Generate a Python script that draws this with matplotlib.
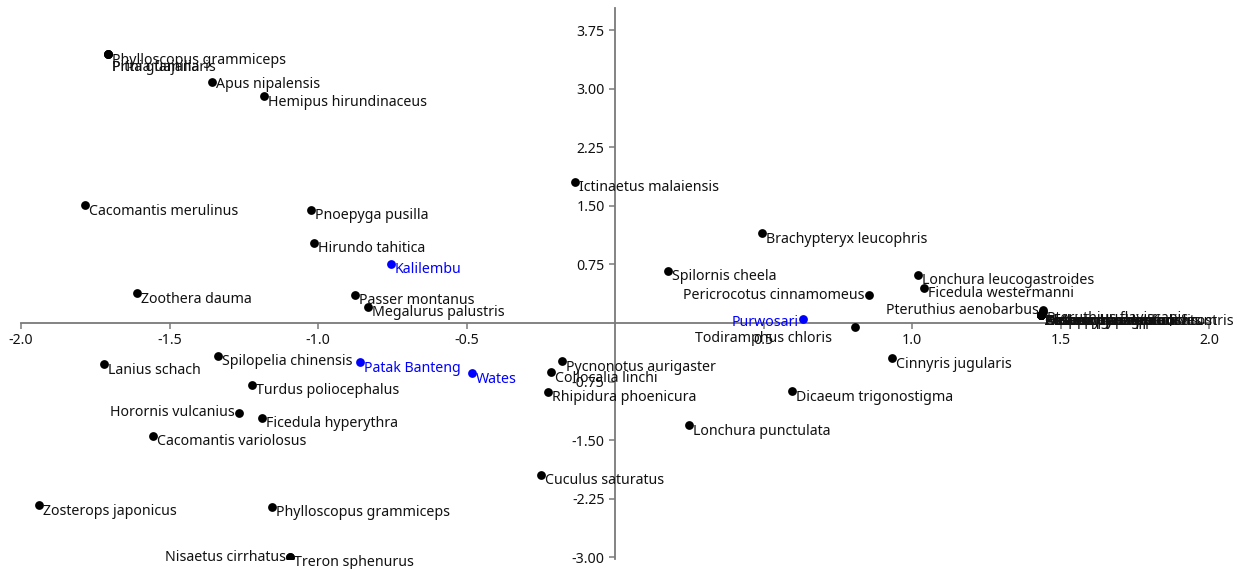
import matplotlib
matplotlib.use("Agg")
import matplotlib.pyplot as plt
from matplotlib.ticker import FixedLocator, FixedFormatter

plt.rcParams["font.family"] = ["Noto Sans", "DejaVu Sans"]
plt.rcParams["axes.unicode_minus"] = False

# Species / site names and their coordinates
names = [
    "Phylloscopus grammiceps", "Pitta guajana", "Prinia familiaris",
    "Apus nipalensis", "Hemipus hirundinaceus", "Cacomantis merulinus",
    "Pnoepyga pusilla", "Hirundo tahitica", "Zoothera dauma",
    "Passer montanus", "Megalurus palustris", "Lanius schach",
    "Spilopelia chinensis", "Turdus poliocephalus", "Horornis vulcanius",
    "Ficedula hyperythra", "Cacomantis variolosus", "Zosterops japonicus",
    "Phylloscopus grammiceps", "Nisaetus cirrhatus", "Treron sphenurus",
    "Ictinaetus malaiensis", "Pycnonotus aurigaster", "Collocalia linchi",
    "Rhipidura phoenicura", "Cuculus saturatus", "Lonchura punctulata",
    "Spilornis cheela", "Brachypteryx leucophris", "Pericrocotus cinnamomeus",
    "Todiramphus chloris", "Dicaeum trigonostigma", "Cinnyris jugularis",
    "Lonchura leucogastroides", "Ficedula westermanni", "Pteruthius aenobarbus",
    "Pteruthius flaviscapis", "Zosterops palpebrosus", "Dicaeum sanguinolentum",
    "Orthotomus sepium", "Aethopyga eximia", "Crocias albonotatus",
    "Heterophasia picaoides", "Alcippe pyrrhoptera", "Phaenicophaeus curvirostris",
]
x_vals = [
    -1.707, -1.707, -1.707,
    -1.357, -1.182, -1.785,
    -1.024, -1.013, -1.609,
    -0.875, -0.832, -1.720,
    -1.337, -1.222, -1.266,
    -1.189, -1.556, -1.939,
    -1.155, -1.094, -1.094,
    -0.135, -0.178, -0.215,
    -0.226, -0.249, 0.249,
    0.178, 0.495, 0.855,
    0.808, 0.596, 0.933,
    1.020, 1.040, 1.441,
    1.441, 1.434, 1.434,
    1.434, 1.434, 1.434,
    1.434, 1.434, 1.434,
]
y_vals = [
    3.44, 3.44, 3.44,
    3.08, 2.90, 1.51,
    1.45, 1.03, 0.38,
    0.36, 0.21, -0.53,
    -0.42, -0.79, -1.15,
    -1.21, -1.44, -2.33,
    -2.35, -2.99, -2.99,
    1.81, -0.49, -0.63,
    -0.88, -1.94, -1.31,
    0.67, 1.15, 0.36,
    -0.05, -0.87, -0.45,
    0.62, 0.45, 0.17,
    0.14, 0.10, 0.10,
    0.10, 0.10, 0.10,
    0.10, 0.10, 0.10,
]

sites = ["Kalilembu", "Patak Banteng", "Wates", "Purwosari"]
site_x = [-0.754, -0.859, -0.481, 0.633]
site_y = [0.76, -0.50, -0.64, 0.05]

x_ticks = [-2.0, -1.5, -1.0, -0.5, 0.5, 1.0, 1.5, 2.0]
x_tick_labels = ["-2.0", "-1.5", "-1.0", "-0.5", "0.5", "1.0", "1.5", "2.0"]
y_ticks = [-3.0, -2.25, -1.5, -0.75, 0.75, 1.5, 2.25, 3.0, 3.75]
y_tick_labels = ["-3.00", "-2.25", "-1.50", "-0.75", "0.75", "1.50", "2.25", "3.00", "3.75"]

# labels drawn on the left of the dot, and special offsets (pixels)
left_labels = {"Horornis vulcanius", "Nisaetus cirrhatus", "Pericrocotus cinnamomeus",
               "Pteruthius aenobarbus", "Purwosari", "Todiramphus chloris"}
label_dy = {"Todiramphus chloris": -12, "Pitta guajana": -13, "Prinia familiaris": -13,
            "Apus nipalensis": -2, "Pericrocotus cinnamomeus": -1,
            "Horornis vulcanius": 0, "Nisaetus cirrhatus": -1,
            "Pteruthius aenobarbus": -1, "Purwosari": -3}
label_dx = {"Todiramphus chloris": -23}

fig = plt.figure(figsize=(12.37, 5.69), dpi=100)
ax = fig.add_axes([0.017, 0.0176, 0.9604, 0.968])

ax.scatter(x_vals, y_vals, s=40, color="black", zorder=3, linewidths=0)
ax.scatter(site_x, site_y, s=40, color="#0000ff", zorder=3, linewidths=0)

px = 0.72  # points per pixel at 100 dpi
fs = 10.2


def put_label(name, x, y, color):
    dy = label_dy.get(name, -6)
    if name in left_labels:
        dx = label_dx.get(name, -4)
        off, ha = (dx * px, dy * px), "right"
    else:
        dx = label_dx.get(name, 4)
        off, ha = (dx * px, dy * px), "left"
    ax.annotate(name, (x, y), xytext=off, textcoords="offset points",
                ha=ha, va="center", fontsize=fs, color=color, zorder=4)


for n, x, y in zip(names, x_vals, y_vals):
    put_label(n, x, y, "#111111")
for n, x, y in zip(sites, site_x, site_y):
    put_label(n, x, y, "#0000ff")

ax.set_xlim(-2.0, 2.0)
ax.set_ylim(-3.02, 4.03)
ax.spines["left"].set_position(("data", 0))
ax.spines["bottom"].set_position(("data", 0))
ax.spines["top"].set_visible(False)
ax.spines["right"].set_visible(False)
for s in ("left", "bottom"):
    ax.spines[s].set_color("#7a7a7a")
    ax.spines[s].set_linewidth(1.3)

ax.xaxis.set_major_locator(FixedLocator(x_ticks))
ax.xaxis.set_major_formatter(FixedFormatter(x_tick_labels))
ax.yaxis.set_major_locator(FixedLocator(y_ticks))
ax.yaxis.set_major_formatter(FixedFormatter(y_tick_labels))
ax.tick_params(direction="out", length=4.5, width=1.1, color="#7a7a7a",
               labelsize=fs, labelcolor="#111111", pad=3)
ax.patch.set_visible(False)

fig.savefig("out.png", dpi=100)
